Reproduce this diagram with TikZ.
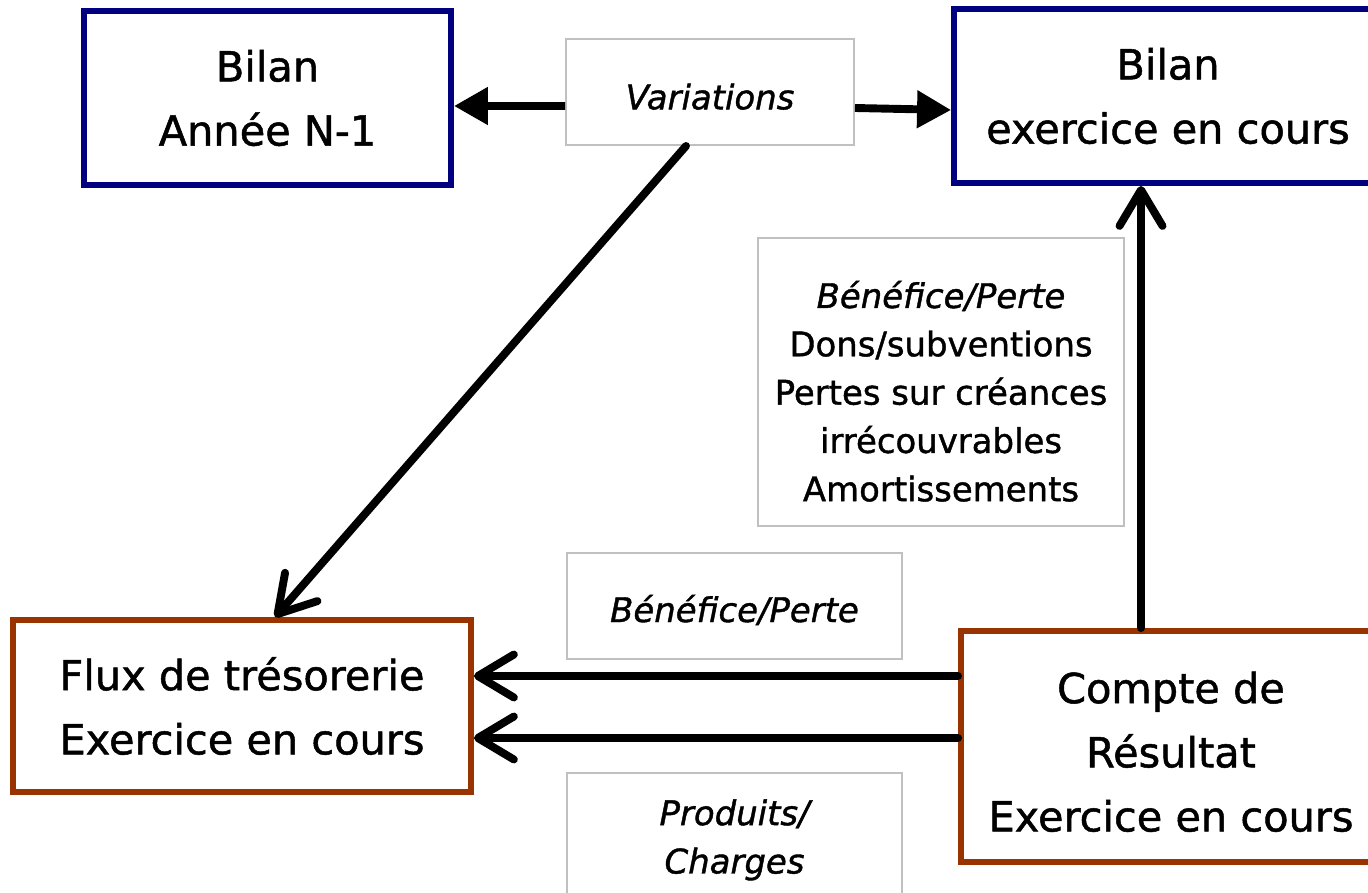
\documentclass[tikz,border=0pt]{standalone}
\usepackage{fontspec}
\setmainfont{DejaVu Sans}[FakeBold=1.2]
\usetikzlibrary{arrows.meta}
\definecolor{bilanblue}{HTML}{000080}
\definecolor{fluxbrown}{HTML}{993300}
\definecolor{labelgray}{HTML}{C0C0C0}

\begin{document}
\begin{tikzpicture}[x=0.02cm,y=-0.02cm,
  bilanbox/.style={draw=bilanblue,line width=3.4pt,align=center,inner sep=0pt,
    font=\fontsize{23.6}{36.5}\selectfont},
  fluxbox/.style={draw=fluxbrown,line width=3.4pt,align=center,inner sep=0pt,
    font=\fontsize{23.6}{36.5}\selectfont},
  labelbox/.style={draw=labelgray,line width=1.1pt,align=center,inner sep=0pt,
    font=\fontsize{19.3}{27.5}\selectfont},
  fatarrow/.style={line width=4.5pt,-{Triangle[length=0.68cm,width=0.72cm]}},
  openarrow/.style={line width=4.5pt,line cap=round,
    -{Straight Barb[length=0.72cm,width=0.86cm,round]}}]
\useasboundingbox (0,0) rectangle (1368,892);
\node[bilanbox,minimum width=7.34cm,minimum height=3.48cm] (n1) at (267.5,98) {Bilan\\Année N-1};
\node[bilanbox,minimum width=8.56cm,minimum height=3.48cm] (n2) at (1168,96) {Bilan\\exercice en cours};
\node[labelbox,minimum width=5.76cm,minimum height=2.12cm] (var) at (710,92) {\rule{0pt}{20pt}\itshape Variations};
\node[labelbox,minimum width=7.32cm,minimum height=5.76cm] (lab1) at (941,382)
  {\rule{0pt}{26pt}\itshape Bénéfice/Perte\\Dons/subventions\\Pertes sur créances\\irrécouvrables\\Amortissements};
\node[labelbox,minimum width=6.7cm,minimum height=2.12cm] (lab2) at (734.5,606) {\rule{0pt}{20pt}\itshape Bénéfice/Perte};
\node[labelbox,minimum width=6.7cm,minimum height=2.56cm] (lab3) at (734.5,837) {\rule{0pt}{18pt}\itshape Produits/\\\itshape Charges};
\node[fluxbox,minimum width=9.16cm,minimum height=3.44cm] (flux) at (242,706) {Flux de trésorerie\\Exercice en cours};
\node[fluxbox,minimum width=8.4cm,minimum height=4.62cm] (compte) at (1171,746.5) {\rule{0pt}{24pt}Compte de\\Résultat\\Exercice en cours};
% fleches
\draw[fatarrow] ([yshift=-0.28cm]var.west) -- ([yshift=-0.16cm]n1.east);
\draw[fatarrow] ([yshift=-0.32cm]var.east) -- ([yshift=-0.28cm]n2.west);
\draw[openarrow] ([xshift=-0.48cm]var.south) -- ([xshift=0.66cm]flux.north);
\draw[openarrow] ([xshift=-0.6cm]compte.north) -- ([xshift=-0.54cm]n2.south);
\draw[openarrow] ([yshift=1.41cm]compte.west) -- ([yshift=0.6cm]flux.east);
\draw[openarrow] ([yshift=0.17cm]compte.west) -- ([yshift=-0.64cm]flux.east);
\end{tikzpicture}
\end{document}
